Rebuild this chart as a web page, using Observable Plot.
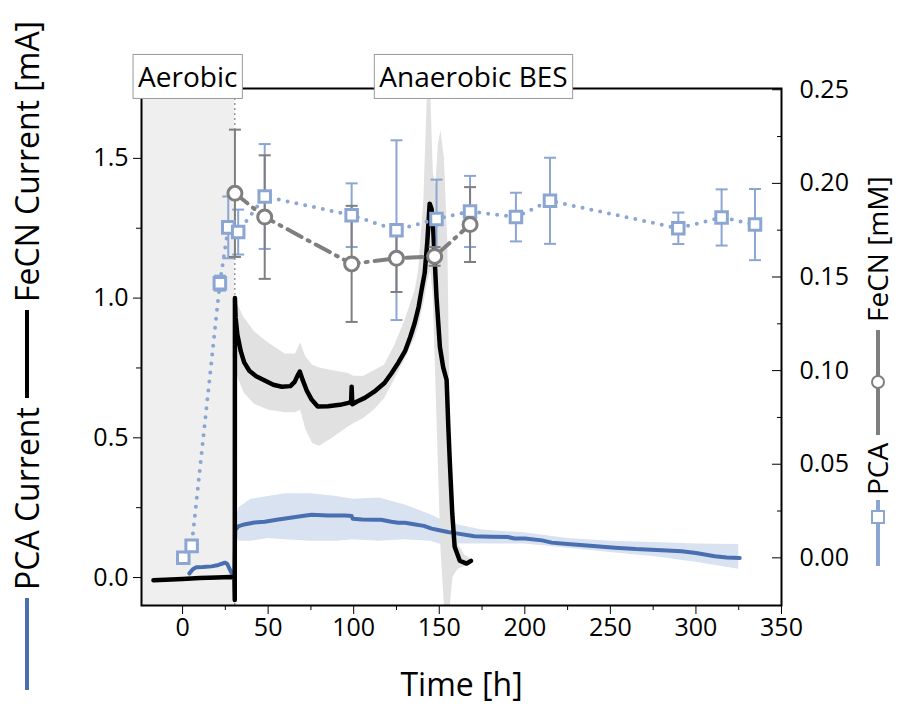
<!DOCTYPE html>
<html><head><meta charset="utf-8">
<script src="https://cdn.jsdelivr.net/npm/d3@7"></script>
<script src="https://cdn.jsdelivr.net/npm/@observablehq/plot@0.6"></script>
<style>body{margin:0;background:#fff;} #chart{width:898px;height:711px;}</style>
</head><body><div id="chart"></div>
<script>
// ---------- data ----------
const phaseLabels = ["Aerobic", "Anaerobic BES"];
const phaseLabelX = [3, 170];
const aerobicStart = -24, aerobicEnd = 30.5;

// FeCN current [mA] (black line, left axis)
const blackT = [-17,-10,0,10,20,28,30.3,30.5,30.6,31,32,34,36,39,43,48,53,58,63,65.5,67,68.5,70,72.5,75.5,79,85,92,97,98.5,98.8,99.2,102,106.5,112,118,122,126,130,133,135.6,138,139.7,141.5,143,144.4,145.5,146.5,148.4,150.4,152.3,154.3,155.3,156.2,157.6,159,162,166,168.5];
const blackV = [-0.01,-0.008,-0.005,-0.002,0.0,0.002,0.0,-0.08,1.0,0.93,0.87,0.81,0.77,0.74,0.72,0.705,0.69,0.683,0.685,0.70,0.72,0.737,0.71,0.67,0.636,0.612,0.613,0.618,0.625,0.63,0.683,0.62,0.63,0.643,0.665,0.696,0.73,0.768,0.81,0.86,0.91,0.97,1.03,1.09,1.2,1.338,1.32,1.243,1.003,0.824,0.752,0.707,0.54,0.41,0.23,0.11,0.06,0.05,0.06];
// FeCN current spread (grey band)
const blackBandT  = [30.5,32,36,42,50,60,66,69,72,76,80,88,97,100,106,112,118,124,130,136,138,141,143,145,146.5,148,149.5,151,153,155,156.5,158,161,165,168];
const blackBandLo = [0.95,0.72,0.66,0.62,0.60,0.59,0.59,0.60,0.53,0.48,0.47,0.50,0.54,0.55,0.57,0.60,0.64,0.71,0.78,0.86,0.90,0.98,1.05,1.1,1.0,0.7,0.4,0.1,-0.1,-0.1,-0.1,0.0,0.03,0.04,0.045];
const blackBandHi = [1.02,0.98,0.93,0.88,0.84,0.80,0.80,0.84,0.79,0.76,0.75,0.74,0.73,0.72,0.72,0.74,0.76,0.83,0.92,1.03,1.10,1.35,1.72,1.75,1.45,1.4,1.55,1.6,1.5,1.2,0.5,0.25,0.12,0.08,0.07];

// PCA current [mA] (blue line, left axis)
const blueT = [4,6,8,12,17,21,24.7,26,28.6,30.3,30.8,32.5,36,42,48,55,62,70,75.5,85,95,98.8,99.5,105,112,116,122,126,130,136,141,145.5,149.4,155,160,170.6,180,190,194,200,210,215.7,225,240,252.7,265,280,291.6,300,311,318,325.6];
const blueV = [0.015,0.03,0.037,0.038,0.04,0.045,0.053,0.05,0.017,0.01,0.17,0.183,0.19,0.197,0.2,0.207,0.213,0.22,0.225,0.222,0.222,0.22,0.21,0.208,0.207,0.207,0.2,0.196,0.196,0.19,0.185,0.175,0.17,0.163,0.158,0.148,0.146,0.145,0.14,0.14,0.133,0.125,0.12,0.113,0.107,0.102,0.098,0.094,0.088,0.076,0.072,0.07];
const blueBandT  = [30.5,33,40,50,60,75,90,100,115,130,145,150,160,175,200,225,250,275,300,325];
const blueBandLo = [0.16,0.13,0.13,0.14,0.135,0.13,0.13,0.135,0.13,0.135,0.13,0.12,0.12,0.12,0.12,0.105,0.09,0.075,0.055,0.03];
const blueBandHi = [0.2,0.25,0.28,0.29,0.30,0.30,0.29,0.28,0.285,0.26,0.225,0.21,0.19,0.17,0.16,0.14,0.13,0.125,0.12,0.118];

// PCA concentration [mM] (squares, right axis)
const pcaT   = [0.4,5.3,21.8,26.7,32.5,48,98.8,125,148.4,168,194.8,214.7,289.7,315,334.5];
const pcaV   = [0.0,0.0064,0.1467,0.1765,0.174,0.193,0.183,0.175,0.181,0.185,0.182,0.1907,0.176,0.1818,0.178];
const pcaErr = [0.002,0.003,0.004,0.0165,0.012,0.028,0.017,0.048,0.021,0.019,0.013,0.023,0.0084,0.015,0.019];

// FeCN concentration [mM] (circles, right axis)
const fecnT   = [30.6,48,98.8,125,147.3,168];
const fecnV   = [0.1947,0.182,0.157,0.160,0.161,0.178];
const fecnErr = [0.034,0.033,0.031,0.018,0.005,0.02];

// ticks
const xMajor = [0,50,100,150,200,250,300,350];
const xMinor = [25,75,125,175,225,275,325];
const leftMajor = [0,0.5,1.0,1.5];
const leftMinor = [0.25,0.75,1.25];
const rightMajor = [0,0.05,0.10,0.15,0.20,0.25];
const rightMinor = [0.025,0.075,0.125,0.175,0.225];

// ---------- build ----------
const FONT = "'Open Sans', 'Noto Sans', sans-serif";
const C_BLACK = "#000000", C_BLUE = "#4a6fb0", C_PCA = "#8ba6d3", C_FECN = "#7f7f7f";
const toLeft = r => 0.0705 + 6.70 * r;
const fromLeft = l => (l - 0.0705) / 6.70;

const black = blackT.map((t, i) => ({t, v: blackV[i]}));
const blackBand = blackBandT.map((t, i) => ({t, lo: blackBandLo[i], hi: blackBandHi[i]}));
const blue = blueT.map((t, i) => ({t, v: blueV[i]}));
const blueBand = blueBandT.map((t, i) => ({t, lo: blueBandLo[i], hi: blueBandHi[i]}));
const pca = pcaT.map((t, i) => ({t, v: toLeft(pcaV[i]), lo: toLeft(pcaV[i] - pcaErr[i]), hi: toLeft(pcaV[i] + pcaErr[i])}));
const fecn = fecnT.map((t, i) => ({t, v: toLeft(fecnV[i]), lo: toLeft(fecnV[i] - fecnErr[i]), hi: toLeft(fecnV[i] + fecnErr[i])}));
const phases = phaseLabels.map((label, i) => ({label, x: phaseLabelX[i]}));

const capSymbol = {draw(ctx, size) { const h = Math.sqrt(size / Math.PI); ctx.moveTo(-h, 0); ctx.lineTo(h, 0); }};

const chart = Plot.plot({
  width: 898, height: 711,
  marginLeft: 141, marginRight: 117, marginTop: 88, marginBottom: 106,
  style: {fontFamily: FONT, fontSize: "25px", color: "#000", background: "#fff", overflow: "visible"},
  x: {domain: [-24, 350]},
  y: {domain: [-0.1, 1.75]},
  marks: [
    Plot.rect([{x1: aerobicStart, x2: aerobicEnd}], {x1: "x1", x2: "x2", fill: "#efefef"}),
    Plot.ruleX([aerobicEnd], {stroke: "#999", strokeWidth: 1.5, strokeDasharray: "2 3"}),
    Plot.areaY(blueBand, {x: "t", y1: "lo", y2: "hi", fill: "#d9e2f1", clip: true}),
    Plot.areaY(blackBand, {x: "t", y1: "lo", y2: "hi", fill: "#e1e1e1", clip: true}),
    Plot.line(blue, {x: "t", y: "v", stroke: C_BLUE, strokeWidth: 4}),
    Plot.line(black, {x: "t", y: "v", stroke: C_BLACK, strokeWidth: 4.5, strokeLinejoin: "round"}),
    Plot.line(pca, {x: "t", y: "v", stroke: C_PCA, strokeWidth: 4, strokeDasharray: "0 9", strokeLinecap: "round"}),
    Plot.line(fecn, {x: "t", y: "v", stroke: C_FECN, strokeWidth: 4, strokeDasharray: "16 7 2 7"}),
    Plot.ruleX(pca, {x: "t", y1: "lo", y2: "hi", stroke: C_PCA, strokeWidth: 2}),
    Plot.dot(pca, {x: "t", y: "lo", symbol: capSymbol, r: 6, stroke: C_PCA, strokeWidth: 2}),
    Plot.dot(pca, {x: "t", y: "hi", symbol: capSymbol, r: 6, stroke: C_PCA, strokeWidth: 2}),
    Plot.ruleX(fecn, {x: "t", y1: "lo", y2: "hi", stroke: C_FECN, strokeWidth: 2}),
    Plot.dot(fecn, {x: "t", y: "lo", symbol: capSymbol, r: 6, stroke: C_FECN, strokeWidth: 2}),
    Plot.dot(fecn, {x: "t", y: "hi", symbol: capSymbol, r: 6, stroke: C_FECN, strokeWidth: 2}),
    Plot.dot(pca, {x: "t", y: "v", symbol: "square", r: 6.5, stroke: C_PCA, strokeWidth: 3, fill: "white"}),
    Plot.dot(fecn, {x: "t", y: "v", symbol: "circle", r: 7, stroke: C_FECN, strokeWidth: 3, fill: "white"}),
    // axes
    Plot.axisX({ticks: xMajor, tickSize: 9, tickPadding: 4, label: null, fontSize: 25}),
    Plot.axisX({ticks: xMinor, tickSize: 5, tickFormat: () => "", label: null}),
    Plot.axisY({ticks: leftMajor, tickSize: 8, tickPadding: 5, tickFormat: d3.format(".1f"), label: null, fontSize: 25}),
    Plot.axisY({ticks: leftMinor, tickSize: 5, tickFormat: () => "", label: null}),
    Plot.axisY({anchor: "right", ticks: rightMajor.map(toLeft), tickSize: 0, tickPadding: 18, tickFormat: d => fromLeft(d).toFixed(2), label: null, fontSize: 25}),
    Plot.axisY({anchor: "right", ticks: rightMajor.map(toLeft), tickSize: 10, dx: -10, tickFormat: () => "", label: null}),
    Plot.axisY({anchor: "right", ticks: rightMinor.map(toLeft), tickSize: 5, dx: -5, tickFormat: () => "", label: null}),
    Plot.frame({stroke: "#000", strokeWidth: 2}),
    Plot.text(["Time [h]"], {frameAnchor: "bottom", dy: 90, fontSize: 32}),
    Plot.text(phases, {x: "x", text: "label", frameAnchor: "top", lineAnchor: "middle", dy: -10, fontSize: 28})
  ]
});
document.getElementById("chart").appendChild(chart);

const svg = d3.select(chart);
// boxes behind phase labels
svg.selectAll("text").filter(function() { return phaseLabels.includes(this.textContent); }).each(function() {
  const b = this.getBBox();
  const padX = 5, padY = 3;
  d3.select(this.parentNode).insert("rect", () => this)
    .attr("transform", this.getAttribute("transform"))
    .attr("x", b.x - padX).attr("y", b.y - padY)
    .attr("width", b.width + 2 * padX).attr("height", b.height + 2 * padY)
    .attr("fill", "#fff").attr("stroke", "#9a9a9a").attr("stroke-width", 1);
});

// axis titles with line samples
const g = svg.append("g").attr("font-family", FONT).attr("fill", "#000").attr("text-anchor", "start");
function vtext(x, y, str, size) {
  g.append("text").attr("transform", `translate(${x},${y}) rotate(-90)`).attr("text-anchor", "start").attr("font-size", size).text(str);
}
function vseg(x, y1, y2, color) {
  g.append("line").attr("x1", x).attr("x2", x).attr("y1", y1).attr("y2", y2).attr("stroke", color).attr("stroke-width", 4);
}
// left
vseg(27, 690, 598, C_BLUE);
vtext(38.5, 590, "PCA Current", 32);
vseg(27, 398, 310, C_BLACK);
vtext(38.5, 302, "FeCN Current [mA]", 32);
// right
vseg(878, 566, 500, C_PCA);
g.append("rect").attr("x", 872).attr("y", 511).attr("width", 12).attr("height", 12).attr("fill", "#fff").attr("stroke", C_PCA).attr("stroke-width", 2);
vtext(888, 495, "PCA", 28);
vseg(878, 435, 330, C_FECN);
g.append("circle").attr("cx", 878).attr("cy", 382).attr("r", 6).attr("fill", "#fff").attr("stroke", C_FECN).attr("stroke-width", 2);
vtext(888, 322, "FeCN [mM]", 28);
</script></body></html>
